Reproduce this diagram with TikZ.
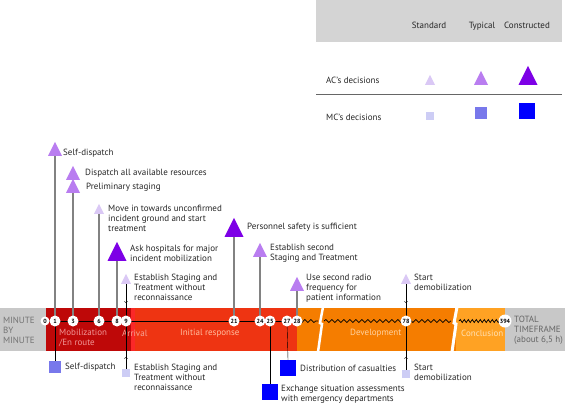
\documentclass[tikz,border=0pt]{standalone}
\usepackage{fontspec}
\setmainfont{PT Sans}
\usetikzlibrary{shapes.geometric,decorations.pathmorphing}
\definecolor{acstd}{RGB}{218,200,245}
\definecolor{actyp}{RGB}{185,125,240}
\definecolor{accon}{RGB}{125,0,230}
\definecolor{mcstd}{RGB}{205,205,245}
\definecolor{mctyp}{RGB}{120,120,235}
\definecolor{mccon}{RGB}{0,0,255}
\definecolor{barGray}{RGB}{200,200,200}
\definecolor{mobRed}{RGB}{190,8,8}
\definecolor{arrRed}{RGB}{250,40,40}
\definecolor{respRed}{RGB}{238,52,18}
\definecolor{devOrange}{RGB}{245,125,0}
\definecolor{conOrange}{RGB}{255,162,35}
\definecolor{legendGray}{RGB}{212,212,212}
\definecolor{stemGray}{RGB}{130,130,130}
\definecolor{mobText}{RGB}{240,150,150}
\definecolor{arrText}{RGB}{245,165,150}
\definecolor{iniText}{RGB}{255,190,160}
\definecolor{devText}{RGB}{255,210,160}
\definecolor{conText}{RGB}{255,225,180}
\tikzset{
  tri/.style={shape=isosceles triangle, shape border rotate=90, isosceles triangle stretches, inner sep=0pt, anchor=south},
  trisml/.style={tri, fill=acstd, minimum width=10pt, minimum height=10pt},
  trimed/.style={tri, fill=actyp, minimum width=14pt, minimum height=14pt},
  trilrg/.style={tri, fill=accon, minimum width=19pt, minimum height=19pt},
  sqsml/.style={fill=mcstd, minimum size=8pt, inner sep=0pt},
  sqmed/.style={fill=mctyp, minimum size=12pt, inner sep=0pt},
  sqlrg/.style={fill=mccon, minimum size=16pt, inner sep=0pt},
  lbl/.style={anchor=west, align=left, inner sep=0pt, font=\fontsize{9}{10}\selectfont, text=black!85},
  barlbl/.style={lbl, text=#1},
  minute/.style={circle, fill=white, inner sep=0pt, minimum size=11pt, font=\fontsize{6}{6}\selectfont\bfseries},
  stem/.style={stemGray, line width=1.3pt},
  wave/.style={decorate, decoration={snake, amplitude=1.5pt, segment length=6pt}},
}
\begin{document}
\begin{tikzpicture}[x=1pt,y=-1pt]
        \useasboundingbox (0,0) rectangle (567,405);

        \fill[legendGray] (316,0) rectangle (562,42);
        \node[lbl, anchor=base] (hstd) at (429,28) {Standard};
        \node[lbl, anchor=base] (htyp) at (482,28) {Typical};
        \node[lbl, anchor=base] (hcon) at (527,28) {Constructed};
        \node[lbl] (acleg) at (326,80) {AC's decisions};
        \node[trisml] (lt1) at (430,85) {};
        \node[trimed] (lt2) at (481,85) {};
        \node[trilrg] (lt3) at (528,85) {};
        \draw[black!60, line width=1pt] (316,94) -- (562,94);
        \node[lbl] (mcleg) at (326,117) {MC's decisions};
        \node[sqsml] (ls1) at (430,116) {};
        \node[sqmed] (ls2) at (481,113) {};
        \node[sqlrg] (ls3) at (527,111) {};

        \fill[barGray] (0,308) rectangle (46,351);
        \fill[mobRed] (46,308) rectangle (131,351);
        \fill[arrRed] (131,308) rectangle (135,351);
        \fill[respRed] (135,308) rectangle (297,351);
        \fill[devOrange] (297,308) rectangle (456,351);
        \fill[conOrange] (456,308) rectangle (505,351);
        \fill[barGray] (505,308) rectangle (565,351);
        \draw[white, line width=2.5pt] (323,307) -- (320,323) -- (322,324) -- (318,352);
        \draw[white, line width=3pt] (457,307) -- (454,323) -- (456,324) -- (452,352);

        \node[barlbl=black!55] (mbm) at (3,330) {MINUTE\\BY\\MINUTE};
        \node[barlbl=mobText] (mob) at (59,338) {Mobilization\\/En route};
        \node[barlbl=arrText] (arr) at (122,333) {Arrival};
        \node[barlbl=iniText] (ini) at (180,333) {Initial response};
        \node[barlbl=devText] (dev) at (350,333) {Development};
        \node[barlbl=conText] (conc) at (461,333) {Conclusion};
        \node[barlbl=black!60] (total) at (514,330) {TOTAL\\TIMEFRAME\\(about 6,5 h)};

        \node[trimed] (t1) at (55,156) {};
        \node[trimed] (t2) at (73,180) {};
        \node[trimed] (t3) at (73,193) {};
        \node[trisml] (t4) at (99,214) {};
        \node[trilrg] (t5) at (117,261) {};
        \node[trisml] (t6) at (126,284) {};
        \node[trilrg] (t7) at (234,237) {};
        \node[trimed] (t8) at (260,257) {};
        \node[trimed] (t9) at (297,291) {};
        \node[trisml] (t10) at (406,284) {};

        \node[lbl] (l1) at (63,153) {Self-dispatch};
        \node[lbl] (l2) at (85,173) {Dispatch all available resources};
        \node[lbl] (l3) at (86,187) {Preliminary staging};
        \node[lbl] (l4) at (108,218) {Move in towards unconfirmed\\incident ground and start\\ treatment};
        \node[lbl] (l5) at (130,253) {Ask hospitals for major\\incident mobilization};
        \node[lbl] (l6) at (134,287) {Establish Staging and\\Treatment without\\reconnaissance};
        \node[lbl] (l7) at (247,227) {Personnel safety is sufficient};
        \node[lbl] (l8) at (270,253) {Establish second\\Staging and Treatment};
        \node[lbl] (l9) at (306,288) {Use second radio\\frequency for\\patient information};
        \node[lbl] (l10) at (414,282) {Start\\demobilization};

        \node[sqmed] (s1) at (55,367) {};
        \node[sqsml] (s2) at (126,373) {};
        \node[sqlrg] (s3) at (288,368) {};
        \node[sqlrg] (s4) at (270,392) {};
        \node[sqsml] (s5) at (406,374) {};

        \node[lbl] (m1) at (65,367) {Self-dispatch};
        \node[lbl] (m2) at (134,377) {Establish Staging and\\Treatment without\\reconnaissance};
        \node[lbl] (m3) at (300,368) {Distribution of casualties};
        \node[lbl] (m4) at (281,394) {Exchange situation assessments\\with emergency departments};
        \node[lbl] (m5) at (414,372) {Start\\demobilization};

        \coordinate (a9top) at (126,303);
        \coordinate (a9bot) at (126,357);
        \coordinate (a78top) at (406,303);
        \coordinate (a78bot) at (406,357);
        \coordinate (w1) at (318,321);
        \coordinate (w2) at (324,321);
        \coordinate (w3) at (451,321);
        \coordinate (w4) at (459,321);

        \coordinate (p0) at (45,321);
        \coordinate (p28) at (297,321);
        \coordinate (p394) at (505,321);
        \draw[line width=0.8pt] (p0) -- (p28);
        \draw[line width=0.7pt, wave] (p28) -- (w1);
        \draw[line width=0.7pt, wave] (w2) -- (w3);
        \draw[line width=0.7pt, wave, decoration={segment length=4pt}] (w4) -- (p394);

        \draw[stem] (t1.south) -- (55,321);
        \draw[stem] (t3.south) -- (73,321);
        \draw[stem] (t4.south) -- (99,321);
        \draw[stem] (t5.south) -- (117,321);
        \draw[stem] (t7.south) -- (234,321);
        \draw[stem] (t8.south) -- (260,321);
        \draw[stem] (t9.south) -- (297,321);

        \draw[thin, ->] (t6.south) -- (a9top);
        \draw[thin] (a9top) -- (a9bot);
        \draw[thin, ->] (s2.north) -- (a9bot);
        \draw[thin, ->] (t10.south) -- (a78top);
        \draw[thin] (a78top) -- (a78bot);
        \draw[thin, ->] (s5.north) -- (a78bot);

        \draw[thin] (55,321) -- (s1.north);
        \draw[thin] (270,321) -- (s4.north);
        \draw[thin] (287,321) -- (s3.north);

        \node[minute, minimum size=9pt] (c0) at (45,321) {0};
        \node[minute] (c1) at (55,321) {1};
        \node[minute] (c3) at (73,321) {3};
        \node[minute] (c6) at (99,321) {6};
        \node[minute] (c8) at (117,321) {8};
        \node[minute] (c9) at (126,321) {9};
        \node[minute] (c21) at (234,321) {21};
        \node[minute] (c24) at (260,321) {24};
        \node[minute] (c25) at (270,321) {25};
        \node[minute] (c27) at (287,321) {27};
        \node[minute] (c28) at (297,321) {28};
        \node[minute] (c78) at (406,321) {78};
        \node[minute, minimum size=13pt] (c394) at (505,321) {394};
\end{tikzpicture}
\end{document}
